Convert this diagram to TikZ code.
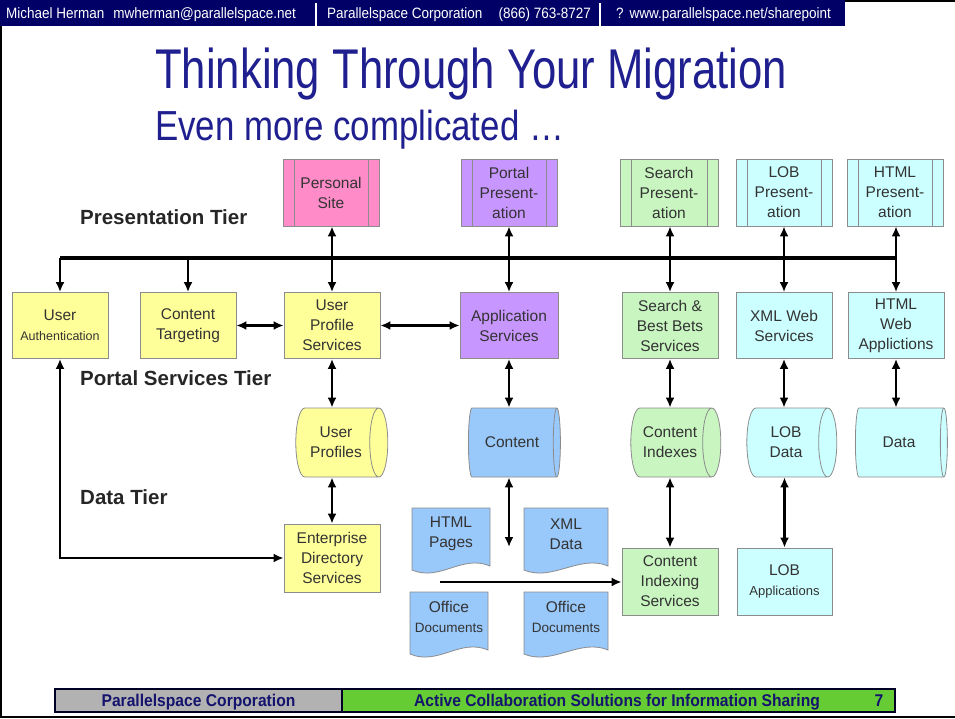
\documentclass[tikz,border=0pt]{standalone}
\usepackage{fontspec}
\setmainfont{Liberation Sans}
\newfontfamily\hdrfont[FakeStretch=0.9]{Liberation Sans}
\newfontfamily\titlefont[FakeStretch=0.78]{Liberation Sans}
\newfontfamily\subfont[FakeStretch=0.83]{Liberation Sans}
\newfontfamily\footfont[FakeStretch=0.92]{Liberation Sans}
\usetikzlibrary{shapes.geometric,arrows.meta}
\definecolor{hdr}{HTML}{000066}
\definecolor{navy}{HTML}{1F1F8F}
\definecolor{ftxt}{HTML}{14146E}
\definecolor{fgray}{HTML}{B2B2B2}
\definecolor{fgreen}{HTML}{66CC33}
\definecolor{bgray}{HTML}{8C8C8C}
\definecolor{txt}{HTML}{333333}
\definecolor{cpink}{HTML}{FF8CC8}
\definecolor{cpurple}{HTML}{C896FF}
\definecolor{cgreen}{HTML}{C8F5C0}
\definecolor{ccyan}{HTML}{CCFFFF}
\definecolor{cblue}{HTML}{99C8FA}
\definecolor{cyellow}{HTML}{FFFF99}
\begin{document}
\begin{tikzpicture}[x=1pt,y=-1pt,
  box/.style={draw=bgray, line width=0.8pt, minimum width=96pt, minimum height=66pt,
    align=center, font=\fontsize{15.5}{20}\selectfont, text=txt, inner sep=1pt},
  pres/.style={box, path picture={
    \draw[bgray, line width=0.8pt] ([xshift=11pt]path picture bounding box.north west) -- ([xshift=11pt]path picture bounding box.south west);
    \draw[bgray, line width=0.8pt] ([xshift=-11pt]path picture bounding box.north east) -- ([xshift=-11pt]path picture bounding box.south east);}},
  cyl/.style={cylinder, aspect=0.55, draw=bgray, line width=0.8pt, minimum height=92pt,
    minimum width=69pt, align=center, font=\fontsize{15.5}{20}\selectfont, text=txt, inner sep=1pt},
  docnode/.style={minimum width=78pt, minimum height=50pt, align=center,
    font=\fontsize{15.5}{20}\selectfont, text=txt, inner sep=1pt},
  tier/.style={font=\fontsize{20.5}{22}\selectfont\bfseries, text=black!85, anchor=base west, inner sep=0pt},
  busline/.style={line width=3.5pt},
  arr/.style={line width=2.3pt, -{Latex[length=10pt,width=9pt]}},
  darr/.style={line width=2.3pt, {Latex[length=10pt,width=9pt]}-{Latex[length=10pt,width=9pt]}},
  loopline/.style={line width=2pt, {Latex[length=10pt,width=9pt]}-{Latex[length=10pt,width=9pt]}},
  docshape/.style={fill=cblue, draw=bgray, line width=0.8pt},
  hdrtext/.style={text=white, font=\hdrfont\fontsize{15}{17}\selectfont, anchor=base west, inner sep=0pt},
  ftext/.style={text=ftxt, font=\footfont\bfseries\fontsize{17}{19}\selectfont, anchor=base, inner sep=0pt}
]
\useasboundingbox (0,0) rectangle (955,718);

% header
\fill[hdr] (0,0) rectangle (845,26);
\node[hdrtext] (h1) at (6,18) {Michael Herman\hspace{9pt}mwherman@parallelspace.net};
\node[hdrtext] (h2) at (327,18) {Parallelspace Corporation\hspace{16pt}(866) 763-8727};
\node[hdrtext] (h3) at (616,18) {?\hspace{6pt}www.parallelspace.net/sharepoint};
\draw[white, line width=1.5pt] (316,3) -- (316,26);
\draw[white, line width=1.5pt] (600,3) -- (600,26);

% frame
\draw[black, line width=2.5pt] (845,1) -- (955,1);
\draw[black, line width=2.5pt] (1,26) -- (1,717) -- (955,717);

% title
\node[anchor=base west, inner sep=0pt, text=navy, font=\titlefont\fontsize{56}{60}\selectfont] (title) at (155,88) {Thinking Through Your Migration};
\node[anchor=base west, inner sep=0pt, text=navy, font=\subfont\fontsize{42}{46}\selectfont] (subtitle) at (155,140) {Even more complicated \dots};

% tier labels
\node[tier] (t1) at (80,224) {Presentation Tier};
\node[tier] (t2) at (80,385) {Portal Services Tier};
\node[tier] (t3) at (80,504) {Data Tier};

% document outlines
\foreach \x/\X/\y/\Y in {412/490/508/572, 524/608/508/572, 410/488/592/656, 524/608/592/656}{
  \filldraw[docshape]
    (\x,\y) -- (\X,\y) -- (\X,\Y-6)
    .. controls (\X-28,\Y-18) and (\x+28,\Y+10) .. (\x,\Y-2) -- cycle;
}

% presentation boxes
\node[pres, fill=cpink, minimum height=67pt] (ps) at (331,192.5) {Personal\\Site};
\node[pres, fill=cpurple, minimum height=67pt] (pp) at (509,192.5) {Portal\\Present-\\ation};
\node[pres, fill=cgreen, minimum height=67pt, minimum width=98pt] (sp) at (669,192.5) {Search\\Present-\\ation};
\node[pres, fill=ccyan, minimum height=67pt] (lp) at (784,192.5) {LOB\\Present-\\ation};
\node[pres, fill=ccyan, minimum height=67pt] (hp) at (895,192.5) {HTML\\Present-\\ation};

% service boxes
\node[box, fill=cyellow] (ua) at (60,325.5) {User\\{\fontsize{12.5}{16}\selectfont Authentication}};
\node[box, fill=cyellow] (ct) at (188,325.5) {Content\\Targeting};
\node[box, fill=cyellow] (ups) at (332,325.5) {User\\Profile\\Services};
\node[box, fill=cpurple, minimum width=98pt] (as) at (509,325.5) {Application\\Services};
\node[box, fill=cgreen] (sbb) at (670,325.5) {Search \&\\Best Bets\\Services};
\node[box, fill=ccyan] (xws) at (784,325.5) {XML Web\\Services};
\node[box, fill=ccyan] (hwa) at (896,325.5) {HTML\\Web\\Applictions};

% cylinders
\node[cyl, fill=cyellow] (upc) at (336,442.5) {User\\Profiles};
\node[cyl, fill=cblue, minimum height=92pt] (cc) at (512,442.5) {Content};
\node[cyl, fill=cgreen, minimum height=90pt] (cic) at (670,442.5) {Content\\Indexes};
\node[cyl, fill=ccyan, minimum height=90pt] (lobd) at (786,442.5) {LOB\\Data};
\node[cyl, fill=ccyan] (dat) at (899,442.5) {Data};

% bottom boxes
\node[box, fill=cyellow, minimum height=68pt] (eds) at (332,558) {Enterprise\\Directory\\Services};
\node[box, fill=cgreen, minimum height=67pt] (cis) at (670,581.5) {Content\\Indexing\\Services};
\node[box, fill=ccyan, minimum height=67pt, minimum width=95pt] (loba) at (784.5,581.5) {LOB\\{\fontsize{13}{16}\selectfont Applications}};

% documents text
\node[docnode] (d1) at (451,534) {HTML\\Pages};
\node[docnode, minimum width=84pt] (d2) at (566,534) {XML\\Data};
\node[docnode] (d3) at (449,617) {Office\\{\fontsize{13.5}{16}\selectfont Documents}};
\node[docnode, minimum width=84pt] (d4) at (566,617) {Office\\{\fontsize{13.5}{16}\selectfont Documents}};

% bus
\coordinate (busL) at (60,258);
\coordinate (busR) at (896,258);
\draw[busline] (busL) -- (busR);
\draw[arr] (busL) -- (ua.north);
\draw[arr] (ct.north |- busL) -- (ct.north);
\draw[darr] (ps.south -| ups.north) -- (ups.north);
\draw[darr] (pp.south) -- (as.north);
\draw[darr] (sp.south -| sbb.north) -- (sbb.north);
\draw[darr] (lp.south -| xws.north) -- (xws.north);
\draw[darr] (hp.south -| hwa.north) -- (hwa.north);

% horizontal
\draw[darr] (ct.east) -- (ups.west);
\draw[darr] (ups.east) -- (as.west);

% verticals down
\draw[darr] (ups.south) -- (upc.north -| ups.south);
\draw[darr] (upc.south -| eds.north) -- (eds.north);
\draw[darr] (as.south) -- (cc.north -| as.south);
\coordinate (cend) at (509,547);
\draw[darr] (cc.south -| cend) -- (cend);
\draw[darr] (sbb.south) -- (cic.north -| sbb.south);
\draw[darr] (cic.south -| cis.north) -- (cis.north);
\draw[darr] (xws.south) -- (lobd.north -| xws.south);
\draw[darr] (lobd.south -| loba.north) -- (loba.north);
\draw[darr] (hwa.south) -- (dat.north -| hwa.south);

% loop
\draw[loopline] (ua.south) |- (eds.west);
\coordinate (dstart) at (440,582);
\draw[arr, line width=2pt] (dstart) -- (cis.west |- dstart);

% footer
\draw[fill=fgray, draw=black!85!blue, line width=2pt] (55,689) rectangle (342,712);
\draw[fill=fgreen, draw=black!85!blue, line width=2pt] (342,689) rectangle (895,712);
\node[ftext] (f1) at (198.5,706.5) {Parallelspace Corporation};
\node[ftext] (f2) at (617,706.5) {Active Collaboration Solutions for Information Sharing};
\node[ftext] (f3) at (879,706.5) {7};
\end{tikzpicture}
\end{document}
